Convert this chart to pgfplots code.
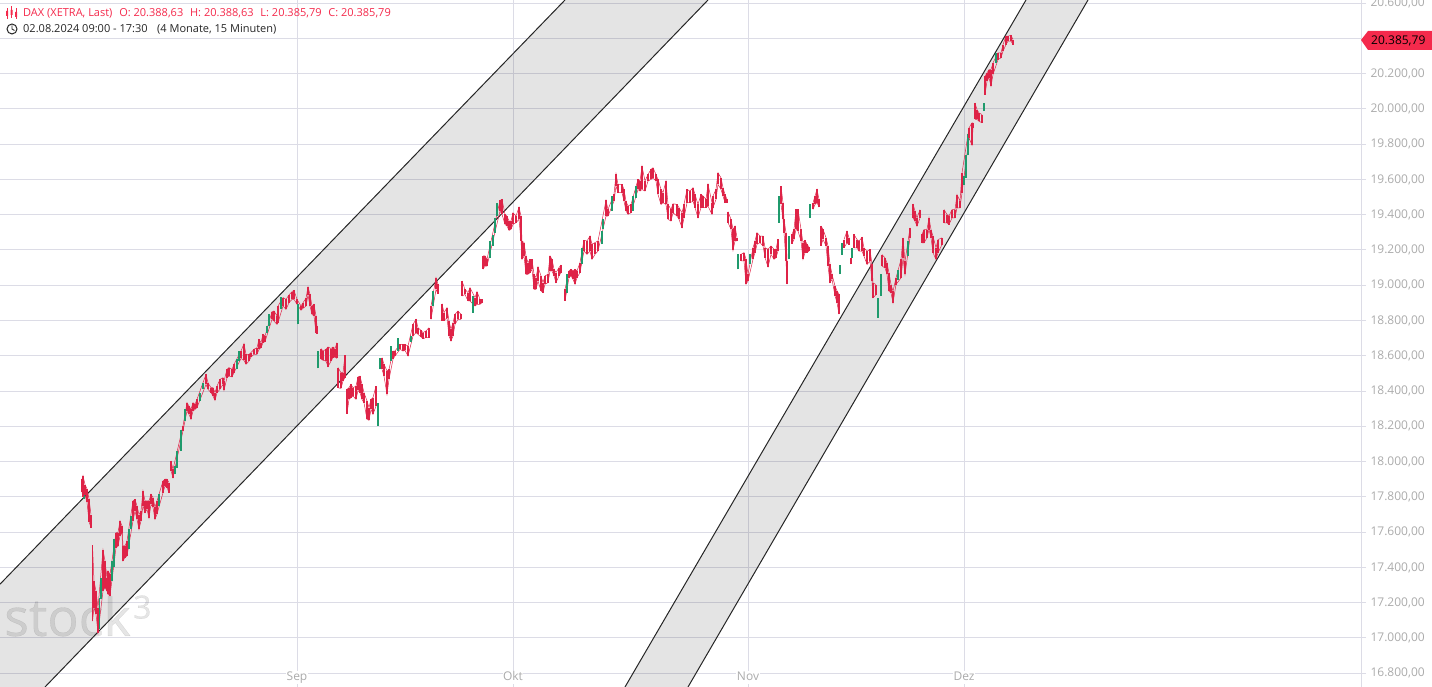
\documentclass[border=0pt]{standalone}
\usepackage{pgfplots}
\usepackage{pgfplotstable}
\usepackage{fontspec}
\setmainfont{Open Sans}
\newfontfamily\wmfont[FakeBold=0.6]{Open Sans}
\pgfplotsset{compat=1.18}
\definecolor{candlered}{HTML}{DE2347}
\definecolor{candlegreen}{HTML}{1F9A6C}
\definecolor{tagred}{HTML}{F42A4C}
\definecolor{gridc}{HTML}{DCDCE6}
\definecolor{labc}{HTML}{ABABAB}
\pgfplotstableread{
x hi lo
82 17900 17825
83 17920 17800
85 17870 17810
87 17845 17770
89 17790 17660
91 17700 17625
92 nan nan
92.5 17525 17096
94 17323 17172
96 17266 17134
98 17172 17030
103 17500 17266
105 17437 17285
107 17340 17266
108 17380 17248
110 17360 17238
116 17597 17512
118 17597 17520
120 17664 17578
122 17636 17597
123 17522 17437
125 17522 17456
127 17550 17465
133 17777 17664
135 17786 17720
137 17748 17673
139 17700 17616
141 17720 17664
143 17834 17750
145 17777 17710
147 17777 17730
149 17777 17680
151 17815 17758
153 17796 17740
155 17740 17673
157 17777 17702
163 17890 17824
165 17900 17862
167 17900 17853
169 17881 17824
170 nan nan
171 18004 17947
173 17956 17909
183 18202 18175
187 18334 18287
189 18315 18268
191 18296 18240
193 18334 18287
195 18325 18296
197 18353 18306
206 18495 18438
208 18447 18410
211 18419 18391
213 18419 18372
215 18391 18347
217 18428 18391
220 18466 18410
223 18476 18438
224 18457 18404
227 18523 18476
229 18533 18485
232 18523 18480
234 18552 18504
241 18627 18585
244 18669 18574
246 18608 18552
249 18608 18570
251 18618 18593
254 18637 18608
257 18646 18608
259 18693 18636
261 18674 18646
263 18722 18674
265 18712 18680
272 18850 18807
274 18854 18797
277 18826 18778
278 18882 18788
283 18930 18882
286 18920 18863
289 18945 18901
292 18964 18920
294 18971 18920
297 18920 18892
301 18882 18858
303 18901 18869
306 18926 18882
308 18990 18945
310 18948 18882
312 18882 18835
314 18892 18826
316 18826 18731
317 18769 18726
317.5 nan nan
321 18641 18580
323 18627 18575
326 18637 18570
328 18650 18538
331 18641 18570
333 18650 18589
335 18641 18593
337 18674 18585
337.5 nan nan
338 18533 18419
341 18504 18415
343 18504 18457
345 18604 18476
346 nan nan
347 18410 18272
349 18419 18353
351 18438 18363
353 18419 18372
356 18428 18353
358 18480 18404
360 18485 18391
362 18438 18353
364 18391 18334
367 18344 18240
369 18306 18234
371 18353 18296
373 18363 18268
376 18428 18315
377 nan nan
382 18589 18523
384 18552 18485
387 18514 18381
389 18523 18466
393 18627 18580
395 18627 18599
400 18665 18637
403 18665 18627
405 18665 18631
408 18655 18599
413 18778 18712
416 18807 18731
418 18759 18722
421 18744 18707
423 18731 18697
426 18741 18703
429 18759 18703
430 nan nan
431 18882 18807
436 19043 18976
438 19005 18952
440 nan nan
442 18895 18800
444 18844 18800
447 18873 18816
449 18797 18712
451 18750 18684
453 18788 18712
455 18835 18778
458 18854 18807
461 18835 18807
461.5 nan nan
462 19024 18939
465 18976 18948
468 18958 18911
470 18986 18911
475 18930 18882
477 18964 18892
480 18920 18892
482 18920 18901
482.5 nan nan
483 19166 19091
485 19166 19109
487 19147 19109
500 19481 19421
502 19487 19402
505 19402 19345
507 19392 19336
509 19364 19311
511 19364 19317
513 19411 19345
516 19392 19355
519 19443 19374
521 19392 19251
522 19251 19147
524 19242 19166
526 19166 19062
528 19128 19062
530 19147 19072
532 19147 19091
534 19062 18977
536 19043 18977
538 19104 19024
541 19053 18968
543 19015 18958
545 19053 19006
548 19062 19015
550 19166 19081
552 19147 19081
554 19091 19053
556 19072 19015
559 19100 19053
561 19115 19072
563 nan nan
565 18977 18911
569 19081 19043
571 19091 19053
573 19081 19034
575 19091 19006
577 19081 19043
580 19128 19072
584 19255 19194
587 19251 19175
590 19279 19194
592 19232 19147
595 19242 19175
598 19251 19194
606 19481 19392
608 19430 19392
614 19515 19477
616 19632 19562
618 19572 19525
622 19572 19525
624 19543 19477
626 19477 19421
628 19449 19402
631 19458 19411
638 19600 19543
640 19591 19534
642 19675 19543
645 19591 19534
648 19628 19591
651 19657 19600
653 19666 19609
656 19628 19591
658 19600 19515
661 19543 19458
663 19525 19468
666 19591 19458
668 19458 19374
671 19430 19364
673 19462 19411
677 19458 19392
679 19440 19374
682 19411 19326
684 19458 19383
687 19543 19468
690 19534 19468
693 19553 19477
695 19515 19440
698 19458 19383
701 19515 19440
703 19506 19440
706 19487 19440
708 19572 19449
712 19468 19402
713 19506 19440
716 19543 19487
718 19638 19572
721 19609 19543
723 19553 19506
725 19515 19468
727 19487 19468
727.5 nan nan
728 19417 19355
731 19374 19317
733 19317 19198
735 19336 19251
737 19270 19251
737.5 nan nan
741 19175 19138
744 19185 19138
746 19147 19006
748 19062 19024
753 19213 19147
755 19251 19185
757 19298 19232
760 19279 19242
763 19279 19223
765 19213 19157
768 19204 19104
771 19223 19175
774 19204 19147
776 19204 19157
778 19260 19194
778.5 nan nan
781 19562 19458
783 19468 19374
784 19374 19298
786 19298 19138
787 19138 19006
788 nan nan
792 19289 19236
794 19317 19260
796 19430 19317
798 19430 19308
801 19317 19251
803 19242 19147
805 19255 19185
807 19232 19185
809 19217 19194
809.5 nan nan
813 19468 19430
815 19506 19458
817 19543 19468
819 19487 19443
820 nan nan
821 19336 19223
823 19317 19260
826 19270 19223
828 19223 19109
830 19119 19015
832 19062 19034
835 18996 18940
837 18968 18902
839 18949 18836
839.5 nan nan
844 19259 19212
847 19307 19240
849 19269 19231
850 nan nan
851 19155 19118
852 nan nan
854 19288 19212
857 19259 19212
859 19250 19193
862 19272 19193
864 19212 19165
867 19193 19118
870 19203 19136
872 19118 19023
873 19013 18929
876 19004 18947
877 nan nan
882 19174 19108
885 19155 19099
887 19127 19061
889 19070 18966
891 19004 18957
893 18966 18900
896 19042 19004
901 19146 19042
903 19269 19155
905 19136 19061
910 19325 19269
911 nan nan
913 19461 19382
915 19420 19363
917 19382 19335
920 19429 19382
921 nan nan
922 19288 19240
924 19316 19240
927 19316 19269
929 19382 19316
931 19316 19269
933 19278 19184
936 19212 19146
938 19259 19184
942 19269 19231
943 nan nan
944 19429 19354
947 19401 19354
949 19392 19344
952 19429 19382
955 19429 19382
957 19514 19439
960 19477 19439
962 19637 19524
969 19892 19836
972 19921 19794
973 19921 19892
974 nan nan
975 20034 19940
977 19996 19940
979 19977 19930
982 19968 19921
983 nan nan
985 20185 20081
987 20204 20157
989 20223 20176
991 20223 20129
993 20261 20195
998 20318 20280
1001 20318 20289
1003 20365 20327
1006 20412 20365
1008 20412 20384
1011 20418 20384
1013 20393 20365
}\redbars
\pgfplotstableread{
x hi lo
84 17820 17790
99.5 17228 17050
101 17342 17220
112 17437 17323
114 17560 17400
129 17616 17503
131 17692 17616
159 17815 17748
175 17975 17928
177 18060 17966
181 18180 18060
185 18296 18230
200 18390 18343
203 18447 18410
237 18580 18523
239 18627 18570
267 18769 18731
269 18835 18769
281 18933 18863
298 18892 18778
318 18630 18529
378 18334 18202
380 18586 18523
391 18655 18570
398 18703 18627
411 18712 18680
433 18967 18882
473 18939 18845
490 19251 19156
493 19285 19223
495 19383 19298
497 19468 19392
567 19062 18958
582 19213 19119
602 19307 19232
603 19374 19317
612 19506 19421
633 19506 19421
636 19562 19496
738 19175 19090
750 19175 19119
779 19505 19355
789 19279 19147
810 19458 19383
840 19117 19061
842 19240 19174
852 19212 19155
878 18929 18815
881 19061 18938
898 19089 19032
908 19250 19165
964 19620 19571
966 19741 19609
968 19855 19741
984 20034 19987
996 20318 20261
}\greenbars
\begin{document}
\begin{tikzpicture}[x=1pt,y=1pt]
\useasboundingbox (0,0) rectangle (1432,687);
\begin{axis}[
  at={(0,0)}, anchor=south west,
  scale only axis, width=1361pt, height=687pt,
  xmin=0, xmax=1361, ymin=16722, ymax=20617.5,
  axis x line*=bottom, axis y line*=right,
  axis line style={-, draw=gridc, line width=1pt},
  x axis line style={draw=none},
  clip=true,
  grid=major, grid style={gridc, line width=1pt},
  xtick={297,513,748,964},
  xticklabels={Sep,Okt,Nov,Dez},
  ytick={16800,17000,17200,17400,17600,17800,18000,18200,18400,18600,18800,19000,19200,19400,19600,19800,20000,20200,20600},
  extra y ticks={20400}, extra y tick labels={},
  extra y tick style={grid=major},
  scaled y ticks=false,
  major tick length=5pt,
  tick style={gridc, line width=1pt},
  ytick align=outside, xtick align=inside,
  y tick label style={
    /pgf/number format/.cd, fixed, fixed zerofill, precision=2, 1000 sep={.}, dec sep={,}, assume math mode=true,
    /tikz/.cd, font=\fontsize{12}{14}\selectfont, text=labc, anchor=west, xshift=1pt},
  x tick label style={font=\fontsize{12}{14}\selectfont, text=labc, fill=white, inner sep=0.5pt, anchor=south, text height=9pt, text depth=3pt, yshift=3pt},
  unbounded coords=jump,
]
% channels
\addplot[draw=none, fill=black, fill opacity=0.105] coordinates {(0,17305) (565,20617.5) (708,20617.5) (45,16722) (0,16722)} \closedcycle;
\addplot[draw=none, fill=black, fill opacity=0.105] coordinates {(625,16722) (1026,20617.5) (1088,20617.5) (688,16722)} \closedcycle;
\node[anchor=base west, inner sep=0, text=black, opacity=0.1, font=\wmfont\fontsize{52}{52}\selectfont] at (axis cs:4,17012) {stock};
\node[anchor=base west, inner sep=0, text=black, opacity=0.1, font=\wmfont\fontsize{32}{32}\selectfont] at (axis cs:133,17110) {3};
\addplot[color=black!85, line width=1pt] coordinates {(0,17305) (565,20617.5)};
\addplot[color=black!85, line width=1pt] coordinates {(45,16722) (708,20617.5)};
\addplot[color=black!85, line width=1pt] coordinates {(625,16722) (1026,20617.5)};
\addplot[color=black!85, line width=1pt] coordinates {(688,16722) (1088,20617.5)};
% candles
\addplot[candlered, line width=0.5pt, mark=none, forget plot] table[x=x, y=hi] {\redbars};
\addplot[candlered, line width=0.5pt, mark=none, forget plot] table[x=x, y=lo] {\redbars};
\addplot[draw=none, mark=none, forget plot,
  error bars/.cd, y dir=plus, y explicit, error mark=none,
  error bar style={candlegreen, line width=1.8pt}]
  table[x=x, y=lo, y error expr=\thisrow{hi}-\thisrow{lo}] {\greenbars};
\addplot[draw=none, mark=none, forget plot,
  error bars/.cd, y dir=plus, y explicit, error mark=none,
  error bar style={candlered, line width=1.7pt}]
  table[x=x, y=lo, y error expr=\thisrow{hi}-\thisrow{lo}] {\redbars};
\end{axis}
% header
\node[anchor=west, inner sep=0, text=tagred, font=\fontsize{11}{13}\selectfont] at (23,674) {DAX (XETRA, Last)\hspace{6.8pt}O: 20.388,63\hspace{6.8pt}H: 20.388,63\hspace{6.8pt}L: 20.385,79\hspace{6.8pt}C: 20.385,79};
\node[anchor=west, inner sep=0, text=black!85, font=\fontsize{11}{13}\selectfont] at (23,658) {02.08.2024 09:00 - 17:30\hspace{9.5pt}(4 Monate, 15 Minuten)};
\draw[tagred, line width=0.9pt] (7,668)--(7,679) (11.5,669)--(11.5,681) (16,668)--(16,679);
\fill[tagred] (6,671) rectangle (8,676) (10.5,672) rectangle (12.5,677) (15,670) rectangle (17,675);
\draw[black!85, line width=1pt] (12,658) circle (5pt);
\draw[black!85, line width=0.9pt] (12,661.5)--(12,658)--(14.5,656.5);
% price tag
\fill[tagred] (1361,647)--(1368,656)--(1432,656)--(1432,637)--(1368,637)--cycle;
\node[anchor=west, inner sep=0, text=black, font=\fontsize{12}{14}\selectfont] at (1371,646.5) {20.385,79};
\end{tikzpicture}
\end{document}
